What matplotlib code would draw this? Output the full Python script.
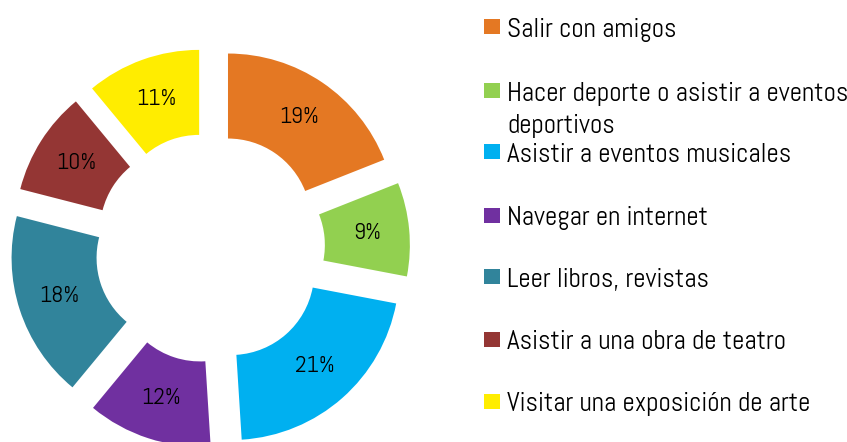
import matplotlib
matplotlib.use("Agg")
import matplotlib.pyplot as plt
from matplotlib.patches import Rectangle

categories = ["Salir con amigos",
              "Hacer deporte o asistir a eventos\ndeportivos",
              "Asistir a eventos musicales",
              "Navegar en internet",
              "Leer libros, revistas",
              "Asistir a una obra de teatro",
              "Visitar una exposición de arte"]
values = [19, 9, 21, 12, 18, 10, 11]
colors = ["#E47823", "#92D050", "#00B0F0", "#7030A0", "#31849B", "#943634", "#FFED00"]

FONT = ["Abel", "DejaVu Sans"]
W, H = 847, 442
fig = plt.figure(figsize=(W / 100, H / 100), dpi=100)
ax = fig.add_axes([0, 0, 1, 1])
ax.set_xlim(0, W)
ax.set_ylim(0, H)
ax.set_aspect("equal")
ax.axis("off")

R = 168
wedges, texts, autotexts = ax.pie(
    values, colors=colors, startangle=90, counterclock=False,
    center=(210, H - 248), radius=R, explode=[32] * len(values),
    wedgeprops=dict(width=85, linewidth=0),
    autopct=lambda p: f"{p:.0f}%", pctdistance=0.75,
    textprops=dict(family=FONT, fontsize=17, color="black"))
ax.set_xlim(0, W)
ax.set_ylim(0, H)

# legend (baseline of last text line given)
sq_top = [19, 83, 144, 208, 269, 332, 394]
base = [37, 133, 162, 225, 287, 349, 411]
for lab, col, t, b in zip(categories, colors, sq_top, base):
    ax.add_patch(Rectangle((484, H - t - 15), 16, 15, facecolor=col, edgecolor="none"))
    ax.text(507, H - b, lab, family=FONT, fontsize=19.5, va="baseline", ha="left",
            linespacing=1.4)

fig.savefig("out.png", dpi=100)
